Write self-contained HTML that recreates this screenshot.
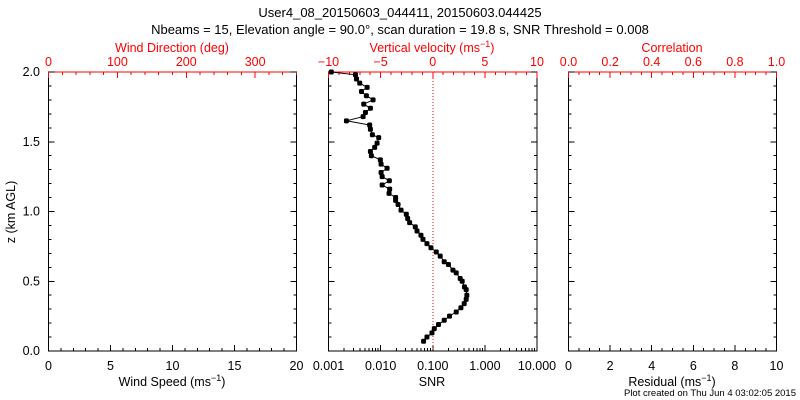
<!DOCTYPE html>
<html><head><meta charset="utf-8"><style>
html,body{margin:0;padding:0;background:#fff;}
svg{display:block;font-family:"Liberation Sans",sans-serif;}
</style></head><body>
<svg id="c" width="800" height="400" viewBox="0 0 800 400" xmlns="http://www.w3.org/2000/svg">
<text x="400" y="17" font-size="13" text-anchor="middle">User4_08_20150603_044411, 20150603.044425</text>
<text x="400" y="34" font-size="13" text-anchor="middle">Nbeams = 15, Elevation angle = 90.0°, scan duration = 19.8 s, SNR Threshold = 0.008</text>
<text x="796" y="396" font-size="9.5" text-anchor="end">Plot created on Thu Jun  4 03:02:05 2015</text>
<text transform="translate(15,212) rotate(-90)" font-size="12.5" text-anchor="middle">z (km AGL)</text>
<g id="g"></g>
</svg>
<script>
const zVals=[2.00,1.98,1.95,1.92,1.89,1.86,1.83,1.80,1.77,1.74,1.71,1.68,1.65,1.62,1.59,1.55,1.53,1.49,1.46,1.43,1.40,1.37,1.34,1.31,1.28,1.25,1.22,1.19,1.16,1.13,1.10,1.08,1.05,1.01,0.98,0.95,0.92,0.89,0.86,0.83,0.80,0.77,0.74,0.71,0.68,0.64,0.62,0.58,0.56,0.52,0.50,0.46,0.44,0.40,0.37,0.34,0.31,0.28,0.25,0.22,0.19,0.16,0.13,0.10,0.07];
const snrVals=[0.00113,0.00329,0.00344,0.00397,0.00551,0.00429,0.00533,0.00716,0.00474,0.00637,0.00511,0.00461,0.00221,0.00616,0.00637,0.00695,0.00918,0.00855,0.00769,0.00637,0.00665,0.00989,0.0102,0.0133,0.0102,0.0107,0.0147,0.0107,0.0149,0.0145,0.0194,0.0194,0.0216,0.0246,0.0311,0.0330,0.0360,0.0462,0.0499,0.0594,0.0649,0.0774,0.0924,0.117,0.139,0.166,0.200,0.244,0.282,0.336,0.367,0.406,0.438,0.451,0.438,0.401,0.347,0.282,0.210,0.166,0.129,0.107,0.0966,0.0774,0.0667];
const yTicks=["0.0","0.5","1.0","1.5","2.0"];
const windSpeedTicks=["0","5","10","15","20"];
const windDirTicks=["0","100","200","300"];
const velTicks=["−10","−5","0","5","10"];
const snrTicks=["0.001","0.010","0.100","1.000","10.000"];
const corrTicks=["0.0","0.2","0.4","0.6","0.8","1.0"];
const resTicks=["0","2","4","6","8","10"];

const NS="http://www.w3.org/2000/svg";
const g=document.getElementById('g');
const T=72,B=351;
function el(t,a,p){const e=document.createElementNS(NS,t);for(const k in a)e.setAttribute(k,a[k]);(p||g).appendChild(e);return e;}
function yS(z){return B-(z/2)*(B-T);}
function line(x1,y1,x2,y2,c){return el('line',{x1,y1,x2,y2,stroke:c||'#000','stroke-width':1,'shape-rendering':'crispEdges'});}
function txt(x,y,s,c,sz,name){const t=el('text',{x,y,'font-size':sz||12.5,'text-anchor':'middle',fill:c||'#000'});t.textContent=s;return t;}

const panels=[{L:48.5,R:296.5},{L:328.5,R:537},{L:568.5,R:776.5}];
panels.forEach((p,i)=>{
  const r=el('rect',{x:p.L,y:T,width:p.R-p.L,height:B-T,fill:'none',stroke:'#000','stroke-width':1,'shape-rendering':'crispEdges'});
  
  
  line(p.L,T,p.R,T,'red');
  for(let k=0;k<=20;k++){const y=yS(k*0.1);const len=k%5==0?6:3;line(p.L,y,p.L+len,y);line(p.R-len,y,p.R,y);}
});
// y labels
yTicks.forEach((s,i)=>{const t=txt(40,yS(i*0.5)+4,s,'#000',12.5,'y-tick-label');t.setAttribute('text-anchor','end');});
// linear axis helper
function linAxis(p,min,max,major,minor,labels,top,color,name){
  const sx=v=>p.L+(v-min)/(max-min)*(p.R-p.L);
  const y0=top?T:B, d=top?1:-1;
  for(let v=min;v<=max+1e-9;v+=minor){const isM=Math.abs(((v-min)/major)-Math.round((v-min)/major))<1e-6;line(sx(v),y0,sx(v),y0+d*(isM?6:3),color);}
  labels.forEach((s,i)=>txt(sx(min+i*major),top?T-6:B+19,s,color,12.5,name));
}
linAxis(panels[0],0,20,5,1,windSpeedTicks,false,'#000','wind-speed-tick-label');
linAxis(panels[0],0,360,100,20,windDirTicks,true,'red','wind-direction-tick-label');
linAxis(panels[1],-10,10,5,1,velTicks,true,'red','velocity-tick-label');
linAxis(panels[2],0,1,0.2,0.05,corrTicks,true,'red','correlation-tick-label');
linAxis(panels[2],0,10,2,0.5,resTicks,false,'#000','residual-tick-label');
// log axis
const P2=panels[1];
function sxLog(v){return P2.L+(Math.log10(v)+3)/4*(P2.R-P2.L);}
for(let e=-3;e<1;e++){for(let m=1;m<10;m++){const v=m*Math.pow(10,e);line(sxLog(v),B,sxLog(v),B-(m==1?6:3));}}
line(sxLog(10),B,sxLog(10),B-6);
snrTicks.forEach((s,i)=>txt(sxLog(Math.pow(10,i-3)),B+19,s,'#000',12.5,'snr-tick-label'));
// zero line
const zl=line(sxLog(0.1),T,sxLog(0.1),B,'red');
zl.setAttribute('stroke-dasharray','1,2');


// titles
const tt=[[172,'Wind Speed (ms',B+35,'#000','wind-speed-title'],[432,'SNR',B+35,'#000','snr-title'],[672,'Residual (ms',B+35,'#000','residual-title'],[172,'Wind Direction (deg)',T-20,'red','wind-direction-title'],[432,'Vertical velocity (ms',T-20,'red','vertical-velocity-title'],[672,'Correlation',T-20,'red','correlation-title']];
tt.forEach(a=>{const t=txt(a[0],a[2],a[1],a[3],12.5,a[4]);if(a[1].endsWith('(ms')){const s1=el('tspan',{dy:-5,'font-size':9},t);s1.textContent='−1';const s2=el('tspan',{dy:5},t);s2.textContent=')';}});
// series
let d='';
zVals.forEach((z,i)=>{d+=(i?'L':'M')+sxLog(snrVals[i]).toFixed(1)+','+yS(z).toFixed(1);});
const pl=el('path',{d,fill:'none',stroke:'#000','stroke-width':1});


zVals.forEach((z,i)=>{
  const c=el('rect',{x:sxLog(snrVals[i])-2.5,y:yS(z)-2.5,width:5,height:5,rx:1.5,fill:'#000'});
  
  
});
</script>
</body></html>
